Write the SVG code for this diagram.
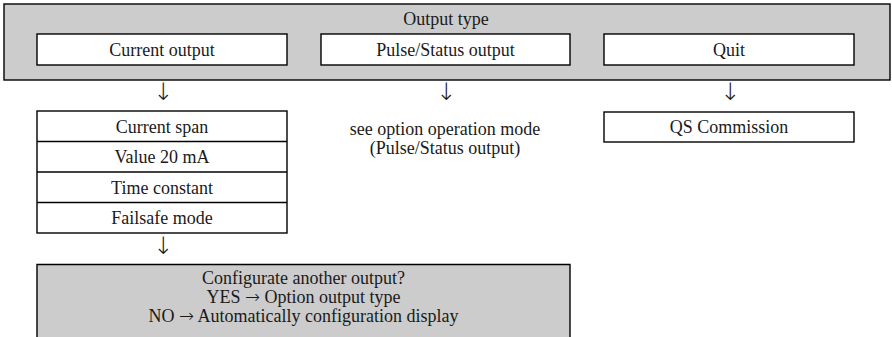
<svg xmlns="http://www.w3.org/2000/svg" width="892" height="337" viewBox="0 0 892 337">
<style>
.gray{fill:#cccccc;stroke:#000;stroke-width:1.4}
.box{fill:#fff;stroke:#000;stroke-width:1.4}
.t{font-family:"Liberation Serif","Times New Roman",serif;font-size:18px;fill:#1a1a1a;text-anchor:middle}
.ar{font-family:"DejaVu Sans",sans-serif;font-weight:200;font-size:18px;fill:#1a1a1a}
.dn{font-family:"DejaVu Sans",sans-serif;font-weight:200;font-size:24px;fill:#1a1a1a;text-anchor:middle}
</style>
<rect width="892" height="337" fill="#fff"/>
<g id="output-type">
<rect class="gray" x="4" y="4" width="886" height="76"/>
<text class="t" x="446" y="25">Output type</text>
</g>
<g id="current-output">
<rect class="box" x="37" y="34" width="250" height="31"/>
<text class="t" x="162" y="56">Current output</text>
</g>
<g id="pulse-status-output">
<rect class="box" x="321" y="34" width="249" height="31"/>
<text class="t" x="445.5" y="56">Pulse/Status output</text>
</g>
<g id="quit">
<rect class="box" x="604" y="34" width="250" height="31"/>
<text class="t" x="729" y="56">Quit</text>
</g>
<g id="connectors">
<text class="dn" x="163" y="100">↓</text>
<text class="dn" x="446" y="100">↓</text>
<text class="dn" x="730" y="100">↓</text>
<text class="dn" x="163" y="254">↓</text>
</g>
<g id="current-settings">
<rect class="box" x="37" y="111" width="250" height="122"/>
<line x1="37" y1="141.5" x2="287" y2="141.5" stroke="#000" stroke-width="1.4"/>
<line x1="37" y1="172" x2="287" y2="172" stroke="#000" stroke-width="1.4"/>
<line x1="37" y1="202.5" x2="287" y2="202.5" stroke="#000" stroke-width="1.4"/>
<text class="t" x="162" y="132.5">Current span</text>
<text class="t" x="162" y="163">Value 20 mA</text>
<text class="t" x="162" y="193.5">Time constant</text>
<text class="t" x="162" y="224">Failsafe mode</text>
</g>
<g id="see-option">
<text class="t" x="445" y="135">see option operation mode</text>
<text class="t" x="445" y="154">(Pulse/Status output)</text>
</g>
<g id="qs-commission">
<rect class="box" x="604" y="112" width="250" height="30"/>
<text class="t" x="729" y="133">QS Commission</text>
</g>
<g id="configurate">
<path d="M37,340 V264.5 H570 V340" fill="#cccccc" stroke="#000" stroke-width="1.4"/>
<text class="t" x="303.5" y="284">Configurate another output?</text>
<text class="t" x="303.5" y="303">YES <tspan class="ar">→</tspan> Option output type</text>
<text class="t" x="303.5" y="322">NO <tspan class="ar">→</tspan> Automatically configuration display</text>
</g>
</svg>
